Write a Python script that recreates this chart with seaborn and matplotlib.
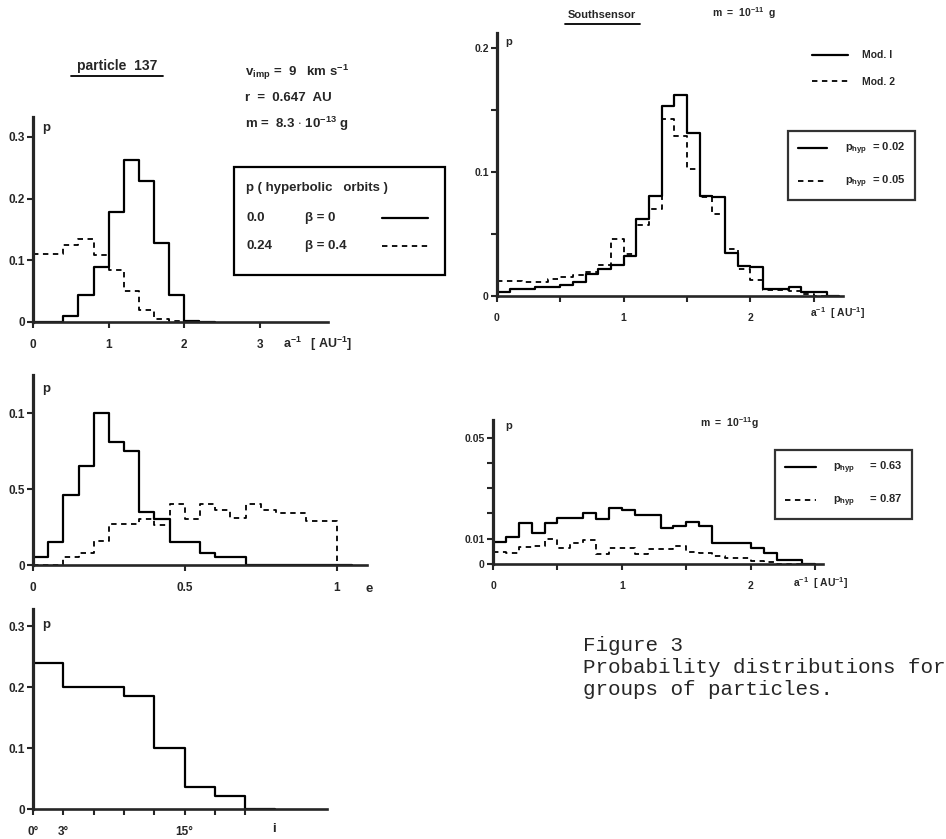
import numpy as np
import matplotlib
matplotlib.use("Agg")
import matplotlib.pyplot as plt
from matplotlib.lines import Line2D
from matplotlib.patches import Rectangle
import seaborn as sns

# ---- values: bin edges and bin heights ----
# particle 137, p(1/a)
a_edges = [0, 0.2, 0.4, 0.6, 0.8, 1.0, 1.2, 1.4, 1.6, 1.8, 2.0, 2.2, 2.4]
a_beta0 = [0, 0, 0.009, 0.043, 0.089, 0.178, 0.262, 0.228, 0.128, 0.043, 0.002, 0]
a_beta04 = [0.11, 0.11, 0.124, 0.134, 0.108, 0.085, 0.051, 0.02, 0.005, 0.002, 0, 0]

# particle 137, p(e)
e_edges = [0, 0.05, 0.1, 0.15, 0.2, 0.25, 0.3, 0.35, 0.4, 0.45, 0.5, 0.55,
           0.6, 0.65, 0.7, 0.75, 0.8, 0.85, 0.9, 0.95, 1.0, 1.05]
e_beta0 = [0.005, 0.015, 0.046, 0.065, 0.100, 0.081, 0.075, 0.035, 0.030, 0.015, 0.015,
           0.008, 0.0055, 0.005, 0, 0, 0, 0, 0, 0, 0]
e_beta04 = [0, 0, 0.005, 0.008, 0.016, 0.027, 0.027, 0.030, 0.026, 0.040, 0.030,
            0.040, 0.036, 0.031, 0.040, 0.036, 0.034, 0.034, 0.029, 0.029, 0]

# particle 137, p(i) in degrees
i_edges = [0, 3, 6, 9, 12, 15, 18, 21, 24]
i_p = [0.24, 0.20, 0.20, 0.185, 0.10, 0.036, 0.021, 0]

# Southsensor, m = 1e-11 g
s_edges = [0, 0.1, 0.2, 0.3, 0.4, 0.5, 0.6, 0.7, 0.8, 0.9, 1.0, 1.1, 1.2, 1.3, 1.4,
           1.5, 1.6, 1.7, 1.8, 1.9, 2.0, 2.1, 2.2, 2.3, 2.4, 2.5, 2.6, 2.7]
s_mod1 = [0.0035, 0.0055, 0.0055, 0.007, 0.0075, 0.0085, 0.011, 0.018, 0.0215, 0.025,
          0.032, 0.062, 0.081, 0.153, 0.162, 0.131, 0.081, 0.080, 0.035, 0.0245,
          0.0235, 0.0055, 0.0055, 0.0075, 0.003, 0.003, 0]
s_mod2 = [0.012, 0.012, 0.011, 0.011, 0.0135, 0.015, 0.017, 0.0195, 0.025, 0.046,
          0.034, 0.057, 0.070, 0.143, 0.129, 0.102, 0.080, 0.066, 0.0375, 0.0215,
          0.013, 0.005, 0.005, 0.004, 0.002, 0, 0]

# second group, m = 1e-11 g
h_edges = [0, 0.1, 0.2, 0.3, 0.4, 0.5, 0.6, 0.7, 0.8, 0.9, 1.0, 1.1, 1.2, 1.3,
           1.4, 1.5, 1.6, 1.7, 1.8, 1.9, 2.0, 2.1, 2.2, 2.3, 2.4, 2.5]
h_p063 = [0.0088, 0.0108, 0.0164, 0.0124, 0.0163, 0.0183, 0.0183, 0.0203, 0.018,
          0.0222, 0.0213, 0.0193, 0.0193, 0.0141, 0.015, 0.0167, 0.015, 0.0082,
          0.0082, 0.0082, 0.0065, 0.0045, 0.0015, 0.0015, 0]
h_p087 = [0.0049, 0.0042, 0.0066, 0.0072, 0.0097, 0.0062, 0.0084, 0.0095, 0.0039,
          0.0062, 0.0062, 0.0038, 0.0059, 0.0059, 0.0072, 0.0049, 0.0043, 0.0033,
          0.0022, 0.0022, 0.0013, 0.0007, 0, 0, 0]

# legend entries of the left group
hyp_p = ["0.0", "0.24"]
beta_labels = ["β = 0", "β = 0.4"]

# ---- style ----
sns.set_style("ticks")
plt.rcParams["font.family"] = ["Liberation Sans", "DejaVu Sans"]
plt.rcParams["font.weight"] = "bold"
plt.rcParams["mathtext.fontset"] = "custom"
plt.rcParams["mathtext.rm"] = "Liberation Sans:bold"
plt.rcParams["mathtext.it"] = "Liberation Sans:bold"
plt.rcParams["mathtext.bf"] = "Liberation Sans:bold"

W, H = 946, 839
fig = plt.figure(figsize=(W / 100, H / 100), dpi=100)
fig.patch.set_facecolor("white")

SOLID = dict(color="black", linewidth=1.6, linestyle="-")
DASHED = dict(color="black", linewidth=1.3, linestyle=(0, (3, 2.5)))
TICKSIZE = 8.5


def panel(left, top, right, bottom, xlim, ylim):
    ax = fig.add_axes([left / W, 1 - bottom / H, (right - left) / W, (bottom - top) / H])
    ax.set_xlim(*xlim)
    ax.set_ylim(*ylim)
    sns.despine(ax=ax)
    ax.spines["left"].set_linewidth(2.3)
    ax.spines["bottom"].set_linewidth(1.9)
    ax.tick_params(axis="both", direction="out", length=4, width=1.5,
                   labelsize=TICKSIZE)
    ax.tick_params(axis="x", pad=8)
    ax.tick_params(axis="y", pad=2)
    ax.patch.set_alpha(0)
    return ax


def steps(ax, edges, heights, style):
    centers = [(edges[k] + edges[k + 1]) / 2 for k in range(len(heights))]
    sns.histplot(x=centers, weights=heights, bins=edges, element="step",
                 fill=False, ax=ax, **style)
    ax.set(xlabel="", ylabel="")


def fx(x):
    return x / W


def fy(y):
    return 1 - y / H


def ftext(x, y, s, **kw):
    kw.setdefault("fontsize", 9.5)
    kw.setdefault("va", "center")
    return fig.text(fx(x), fy(y), s, **kw)


def fline(x0, x1, y, **kw):
    fig.add_artist(Line2D([fx(x0), fx(x1)], [fy(y), fy(y)],
                          transform=fig.transFigure, **kw))


# ---- panel A: 1/a for particle 137 ----
axA = panel(33, 117, 328, 322, (0, 3.9), (0, 0.332))
steps(axA, a_edges, a_beta0, SOLID)
steps(axA, a_edges, a_beta04, DASHED)
axA.set_xticks([0, 1, 2, 3])
axA.set_yticks([0, 0.1, 0.2, 0.3], ["0", "0.1", "0.2", "0.3"])
ftext(42, 128, "p")
ftext(283, 344, r"a$^{-1}$   [ AU$^{-1}$]", fontsize=9)

ftext(117, 66, "particle  137", ha="center", fontsize=10)
fline(71, 163, 76, color="black", lw=1.3)
ftext(245, 72, r"v$_{imp}$ =  9   km s$^{-1}$")
ftext(245, 98, "r  =  0.647  AU")
ftext(245, 124, r"m =  8.3 $\cdot$ 10$^{-13}$ g")

# boxed key: text first, line sample on the right
fig.add_artist(Rectangle((fx(234), fy(275)), fx(445) - fx(234), fy(167) - fy(275),
                         transform=fig.transFigure, fill=False,
                         edgecolor="black", linewidth=1.6))
ftext(246, 188, "p ( hyperbolic   orbits )")
for row, (pv, bl, style) in enumerate(zip(hyp_p, beta_labels, [SOLID, DASHED])):
    yrow = 218 + 28 * row
    ftext(246, yrow, pv)
    ftext(305, yrow, bl)
    fline(382, 428, yrow, **style)

# ---- panel B: e for particle 137 ----
axB = panel(33, 375, 367, 565, (0, 1.10), (0, 0.125))
steps(axB, e_edges, e_beta0, SOLID)
steps(axB, e_edges, e_beta04, DASHED)
axB.set_xticks([0, 0.5, 1], ["0", "0.5", "1"])
axB.set_yticks([0, 0.05, 0.1], ["0", "0.5", "0.1"])
ftext(42, 389, "p")
ftext(365, 589, "e")

# ---- panel C: inclination ----
axC = panel(33, 609, 327, 809, (0, 29.1), (0, 0.328))
steps(axC, i_edges, i_p, SOLID)
axC.set_xticks([0, 3, 6, 9, 12, 15, 18, 21],
               ["0°", "3°", "", "", "", "15°", "", ""])
axC.set_yticks([0, 0.1, 0.2, 0.3], ["0", "0.1", "0.2", "0.3"])
ftext(42, 625, "p")
ftext(272, 829, "i")

# ---- panel D: Southsensor ----
axD = panel(497, 33, 843, 296, (0, 2.73), (0, 0.212))
steps(axD, s_edges, s_mod1, SOLID)
steps(axD, s_edges, s_mod2, DASHED)
axD.set_xticks([0, 0.5, 1, 1.5, 2, 2.5], ["0", "", "1", "", "2", ""])
axD.set_yticks([0, 0.05, 0.1, 0.15, 0.2], ["0", "", "0.1", "", "0.2"])
axD.tick_params(labelsize=7.5)
ftext(505, 42, "p", fontsize=8)
ftext(810, 313, r"a$^{-1}$  [ AU$^{-1}$]", fontsize=7.5)
ftext(602, 15, "Southsensor", ha="center", fontsize=8)
fline(565, 640, 24, color="black", lw=1.3)
ftext(712, 13, r"m  =  10$^{-11}$  g", fontsize=7.5)

hD = [Line2D([], [], **SOLID), Line2D([], [], **DASHED)]
legD1 = fig.legend(hD, ["Mod. I", "Mod. 2"], loc="upper left",
                   bbox_to_anchor=(fx(808), fy(46)), borderaxespad=0,
                   handlelength=3.4, handletextpad=1.4, labelspacing=1.6,
                   fontsize=7.5, frameon=False)
legD2 = fig.legend(hD, [r"p$_{hyp}$  = 0.02", r"p$_{hyp}$  = 0.05"],
                   loc="upper left", bbox_to_anchor=(fx(788), fy(131)),
                   borderaxespad=0, handlelength=2.6, handletextpad=1.6,
                   labelspacing=1.5, borderpad=0.9, fontsize=8, frameon=True,
                   fancybox=False)
legD2.get_frame().set_edgecolor("black")
legD2.get_frame().set_linewidth(1.6)

# ---- panel E: second mass group ----
axE = panel(493, 420, 823, 564, (0, 2.56), (0, 0.057))
steps(axE, h_edges, h_p063, SOLID)
steps(axE, h_edges, h_p087, DASHED)
axE.set_xticks([0, 0.5, 1, 1.5, 2, 2.5], ["0", "", "1", "", "2", ""])
axE.set_yticks([0, 0.01, 0.02, 0.03, 0.04, 0.05], ["0", "0.01", "", "", "", "0.05"])
axE.tick_params(labelsize=7.5)
ftext(505, 426, "p", fontsize=8)
ftext(793, 583, r"a$^{-1}$  [ AU$^{-1}$]", fontsize=7.5)
ftext(700, 423, r"m  =  10$^{-11}$g", fontsize=7.5)

legE = fig.legend(hD, [r"p$_{hyp}$     = 0.63", r"p$_{hyp}$     = 0.87"],
                  loc="upper left", bbox_to_anchor=(fx(775), fy(450)),
                  borderaxespad=0, handlelength=2.8, handletextpad=1.5,
                  labelspacing=1.5, borderpad=0.9, fontsize=8, frameon=True,
                  fancybox=False)
legE.get_frame().set_edgecolor("black")
legE.get_frame().set_linewidth(1.6)

# ---- caption ----
fig.text(fx(583), fy(636),
         "Figure 3\nProbability distributions for\ngroups of particles.",
         family="Liberation Mono", fontweight="normal", fontsize=15,
         va="top", ha="left", linespacing=1.2)

fig.savefig("out.png", dpi=100, facecolor="white")
